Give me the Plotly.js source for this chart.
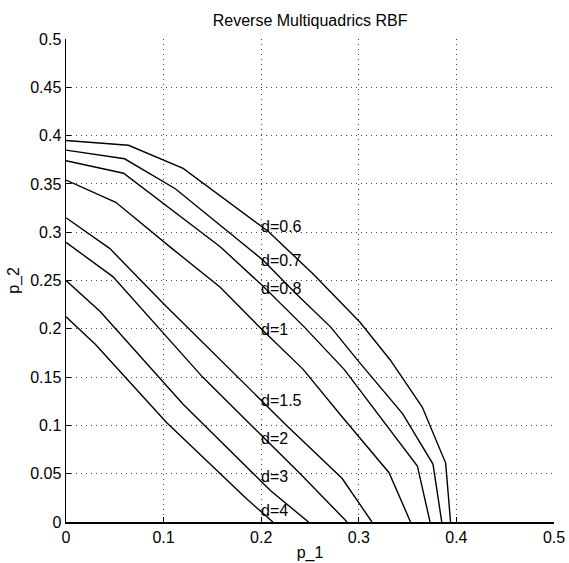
<!DOCTYPE html>
<html>
<head>
<meta charset="utf-8">
<script src="https://cdn.plot.ly/plotly-3.0.1.min.js"></script>
<style>
  html, body { margin: 0; padding: 0; background: #fff; }
  #chart { width: 569px; height: 563px; }
</style>
</head>
<body>
<div id="chart"></div>
<script>
// Contour levels (d) and their polylines
const levels = ["d=0.6", "d=0.7", "d=0.8", "d=1", "d=1.5", "d=2", "d=3", "d=4"];

const p1_d06 = [0, 0.064, 0.120, 0.207, 0.254, 0.301, 0.332, 0.365, 0.389, 0.394];
const p2_d06 = [0.395, 0.390, 0.366, 0.301, 0.256, 0.207, 0.168, 0.119, 0.061, 0];

const p1_d07 = [0, 0.060, 0.112, 0.166, 0.202, 0.236, 0.271, 0.300, 0.345, 0.376, 0.385];
const p2_d07 = [0.385, 0.376, 0.345, 0.300, 0.271, 0.236, 0.202, 0.166, 0.112, 0.060, 0];

const p1_d08 = [0, 0.059, 0.158, 0.202, 0.244, 0.285, 0.360, 0.373];
const p2_d08 = [0.374, 0.361, 0.285, 0.244, 0.202, 0.158, 0.058, 0];

const p1_d1 = [0, 0.051, 0.110, 0.158, 0.200, 0.243, 0.282, 0.331, 0.353];
const p2_d1 = [0.354, 0.331, 0.282, 0.243, 0.200, 0.158, 0.110, 0.051, 0];

const p1_d15 = [0, 0.045, 0.100, 0.163, 0.226, 0.283, 0.3135];
const p2_d15 = [0.315, 0.283, 0.226, 0.163, 0.100, 0.045, 0];

const p1_d2 = [0, 0.048, 0.140, 0.240, 0.288];
const p2_d2 = [0.2895, 0.254, 0.150, 0.050, 0];

const p1_d3 = [0, 0.035, 0.120, 0.210, 0.2485];
const p2_d3 = [0.250, 0.218, 0.122, 0.032, 0];

const p1_d4 = [0, 0.030, 0.103, 0.185, 0.212];
const p2_d4 = [0.2125, 0.184, 0.103, 0.024, 0];

const curvesX = [p1_d06, p1_d07, p1_d08, p1_d1, p1_d15, p1_d2, p1_d3, p1_d4];
const curvesY = [p2_d06, p2_d07, p2_d08, p2_d1, p2_d15, p2_d2, p2_d3, p2_d4];

// Label anchor points (p_1, p_2) for each level
const labelX = [0.2, 0.2, 0.2, 0.2, 0.2, 0.2, 0.2, 0.2];
const labelY = [0.306, 0.271, 0.242, 0.199, 0.126, 0.086, 0.0466, 0.0124];

const tickVals = [0, 0.1, 0.2, 0.3, 0.4, 0.5];
const tickText = ["0", "0.1", "0.2", "0.3", "0.4", "0.5"];
const yTickVals = [0, 0.05, 0.1, 0.15, 0.2, 0.25, 0.3, 0.35, 0.4, 0.45, 0.5];
const yTickText = ["0", "0.05", "0.1", "0.15", "0.2", "0.25", "0.3", "0.35", "0.4", "0.45", "0.5"];

const FONT = "'Liberation Sans', Arial, Helvetica, sans-serif";

const traces = curvesX.map((xs, i) => ({
  type: "scatter",
  mode: "lines",
  x: xs,
  y: curvesY[i],
  name: levels[i],
  line: { color: "#000", width: 1.4 },
  hoverinfo: "skip",
  showlegend: false
}));

const annotations = levels.map((t, i) => ({
  x: labelX[i], y: labelY[i], xref: "x", yref: "y",
  text: t, showarrow: false, xanchor: "left", yanchor: "middle",
  xshift: -2,
  font: { family: FONT, size: 16, color: "#000" }
}));

const axisCommon = {
  showgrid: true,
  gridcolor: "#444",
  griddash: "1px,4px",
  gridwidth: 1,
  zeroline: false,
  showline: true,
  linecolor: "#000",
  linewidth: 1.5,
  mirror: false,
  ticks: "inside",
  ticklen: 5,
  tickcolor: "#000",
  tickwidth: 1,
  tickfont: { family: FONT, size: 16, color: "#000" }
};

const layout = {
  width: 569,
  height: 563,
  margin: { l: 66, r: 15, t: 39, b: 41 },
  paper_bgcolor: "#fff",
  plot_bgcolor: "#fff",
  showlegend: false,
  title: {
    text: "Reverse Multiquadrics RBF",
    font: { family: FONT, size: 16, color: "#000" },
    x: 0.545, xanchor: "center", y: 0.963, yanchor: "middle"
  },
  xaxis: Object.assign({}, axisCommon, {
    range: [0, 0.5],
    tickvals: tickVals,
    ticktext: tickText,
    title: { text: "p_1", font: { family: FONT, size: 16, color: "#000" }, standoff: 2 }
  }),
  yaxis: Object.assign({}, axisCommon, {
    range: [0, 0.5],
    tickvals: yTickVals,
    ticktext: yTickText,
    title: { text: "p_2", font: { family: FONT, size: 16, color: "#000" }, standoff: 6 }
  }),
  annotations: annotations
};

Plotly.newPlot("chart", traces, layout, { displayModeBar: false, staticPlot: true });
</script>
</body>
</html>
